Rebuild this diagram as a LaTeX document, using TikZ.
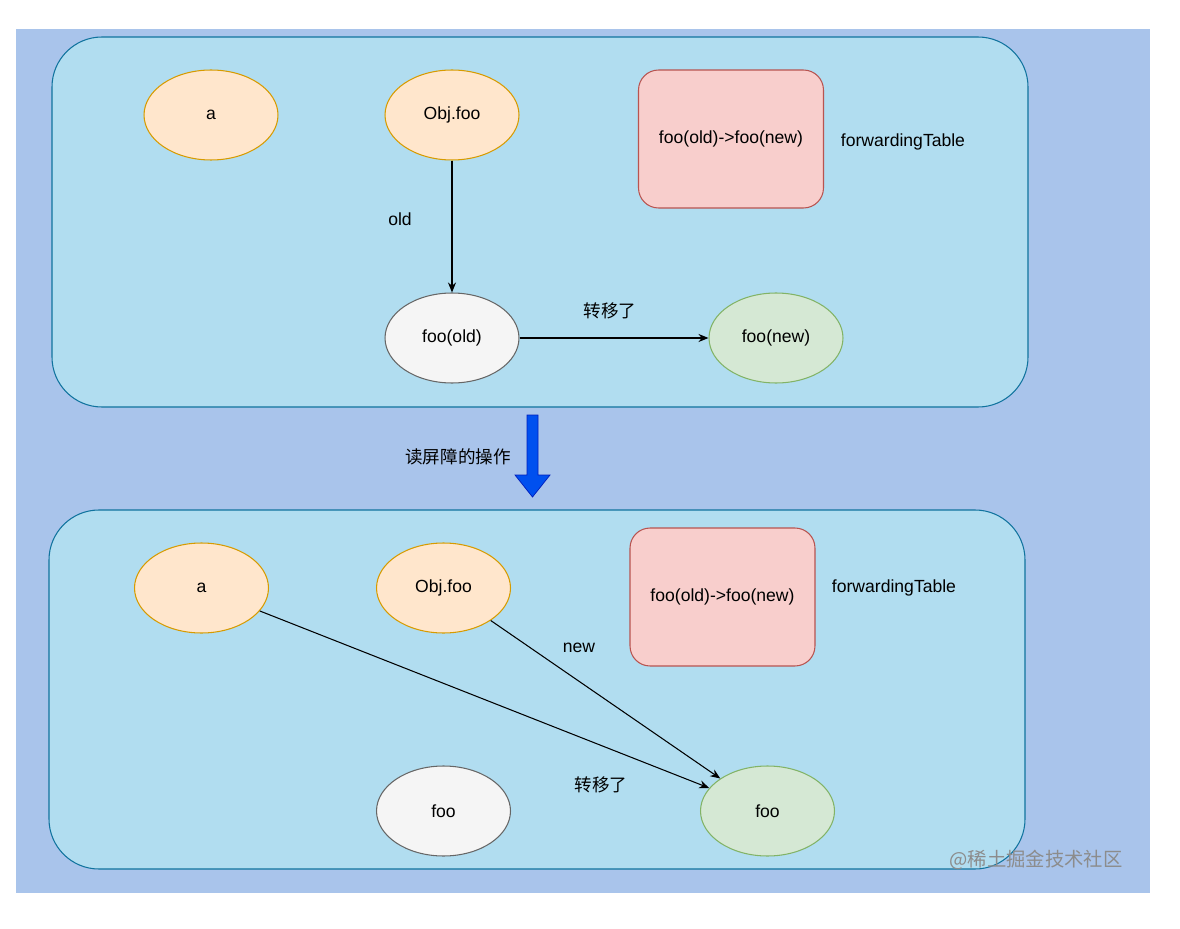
\documentclass[tikz,border=0pt]{standalone}
\usepackage{fontspec}
\setmainfont{Liberation Sans}
\newfontfamily\cjk{Noto Sans CJK SC}
\usetikzlibrary{shapes.geometric, arrows.meta, positioning}
\definecolor{sfondo}{HTML}{A9C4EB}
\definecolor{heapfill}{HTML}{B1DDF0}
\definecolor{heapline}{HTML}{10739E}
\definecolor{reffill}{HTML}{FFE6CC}
\definecolor{refline}{HTML}{D79B00}
\definecolor{tabfill}{HTML}{F8CECC}
\definecolor{tabline}{HTML}{B85450}
\definecolor{oldfill}{HTML}{F5F5F5}
\definecolor{oldline}{HTML}{666666}
\definecolor{newfill}{HTML}{D5E8D4}
\definecolor{newborder}{HTML}{82B366}
\definecolor{barrierblue}{HTML}{0050EF}
\definecolor{barrierline}{HTML}{001DBC}
\tikzset{
  % regione dell'heap
  heap/.style={draw=heapline, fill=heapfill, rounded corners=1cm, line width=0.6pt},
  % oggetto (ellisse)
  obj/.style={ellipse, minimum width=2.68cm, minimum height=1.8cm, inner sep=0pt,
    line width=0.6pt, font=\fontsize{10}{12}\selectfont},
  obj ref/.style={obj, draw=refline, fill=reffill},
  obj old/.style={obj, draw=oldline, fill=oldfill},
  obj new/.style={obj, draw=newborder, fill=newfill},
  % tabella di inoltro
  fwdtable/.style={draw=tabline, fill=tabfill, rounded corners=0.4cm, line width=0.6pt,
    minimum width=3.7cm, minimum height=2.76cm, font=\fontsize{10}{12}\selectfont},
  % riferimento
  ref/.style={-{Stealth[length=2mm, width=1.6mm]}, line width=0.6pt},
  % etichette
  lbl/.style={font=\fontsize{10}{12}\selectfont},
  cnlbl/.style={font=\cjk\fontsize{10}{12}\selectfont},
}
\begin{document}
\begin{tikzpicture}[x=0.02cm, y=-0.02cm]
  \useasboundingbox (0,0) rectangle (1180,929);
  \fill[sfondo] (16,29) rectangle (1150,893);

  % prima del read barrier
  \draw[heap] (52,37) rectangle (1028,407);
  \node[obj ref] (aT) at (211,115) {a};
  \node[obj ref] (objT) at (452,115) {Obj.foo};
  \node[fwdtable] (tabT) at (731,139) {foo(old)->foo(new)};
  \node[lbl] (fwdT) at (903,142) {forwardingTable};
  \node[obj old] (oldT) at (452,338) {foo(old)};
  \node[obj new] (newT) at (776,338) {foo(new)};
  \node[lbl] (oldlbl) at (400,219) {old};
  \node[cnlbl] (movedT) at (610,311) {转移了};
  \draw[ref] (objT) -- (oldT);
  \draw[ref] (oldT) -- (newT);

  % freccia del read barrier
  \draw[fill=barrierblue, draw=barrierline, line width=0.4pt]
    (527,415) -- (538,415) -- (538,475) -- (550,475) -- (532.5,497)
    -- (515,475) -- (527,475) -- cycle;
  \node[cnlbl] (barrier) at (458,457) {读屏障的操作};

  % dopo il read barrier
  \draw[heap] (49,510) rectangle (1025,869);
  \node[obj ref] (aB) at (201.5,588) {a};
  \node[obj ref] (objB) at (443.5,588) {Obj.foo};
  \node[fwdtable] (tabB) at (722.5,597) {foo(old)->foo(new)};
  \node[lbl] (fwdB) at (894,588) {forwardingTable};
  \node[obj old] (oldB) at (443.5,811) {foo};
  \node[obj new] (newB) at (767.5,811) {foo};
  \node[lbl] (newlbl) at (579,648) {new};
  \node[cnlbl] (movedB) at (601,785) {转移了};
  \draw[ref] (aB) -- (newB);
  \draw[ref] (objB) -- (newB);

  \node[font=\cjk\fontsize{11}{13}\selectfont, text=black!45] (mark) at (1036,860) {@稀土掘金技术社区};
\end{tikzpicture}
\end{document}
